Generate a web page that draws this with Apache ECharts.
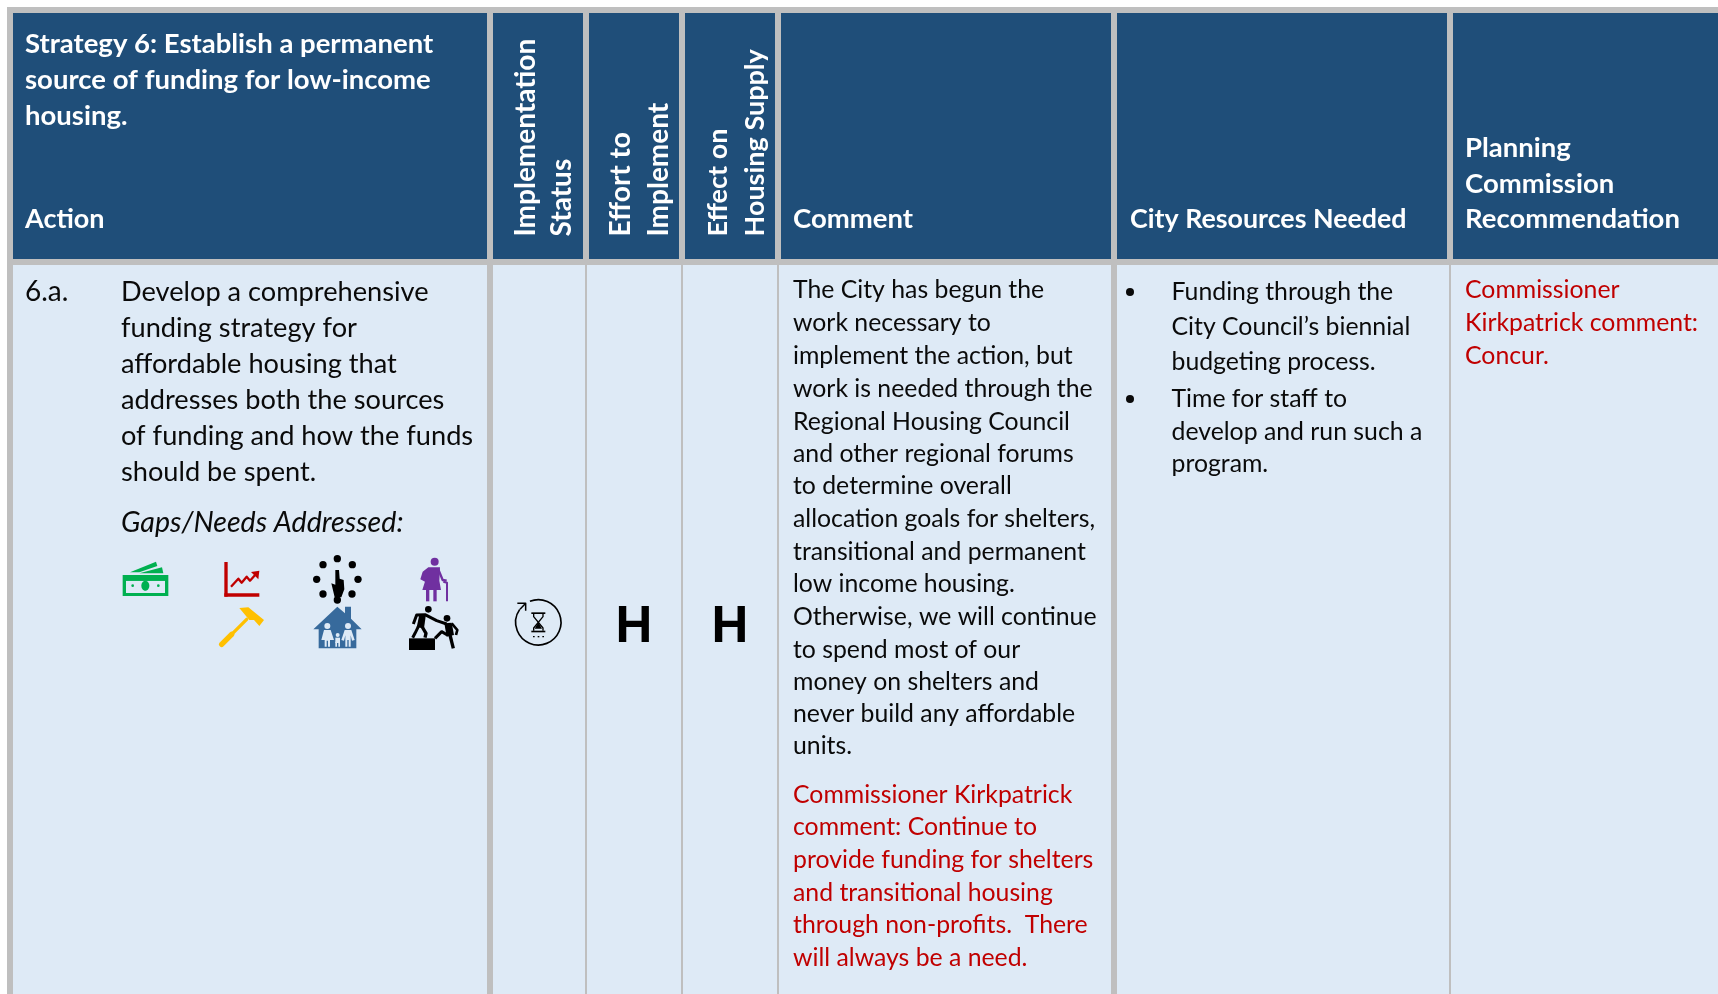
<!DOCTYPE html>
<html><head><meta charset="utf-8">
<style>html,body{margin:0;padding:0;background:#fff}#c{width:1718px;height:994px}</style>
<script src="https://cdn.jsdelivr.net/npm/echarts@6/dist/echarts.min.js"></script>
</head><body><div id="c"></div>
<script>
// ---- table content ----
const strategyTitle = ['Strategy 6: Establish a permanent','source of funding for low-income','housing.'];
const actionHeader = ['Action'];
const statusHeader = ['Implementation','Status'];
const effortHeader = ['Effort to','Implement'];
const effectHeader = ['Effect on','Housing Supply'];
const commentHeader = ['Comment'];
const resourcesHeader = ['City Resources Needed'];
const planningHeader = ['Planning','Commission','Recommendation'];
const actionId = ['6.a.'];
const actionText = ['Develop a comprehensive','funding strategy for','affordable housing that','addresses both the sources','of funding and how the funds','should be spent.'];
const gapsLabel = ['Gaps/Needs Addressed:'];
const effortValue = ['H'];
const effectValue = ['H'];
const commentText = ['The City has begun the','work necessary to','implement the action, but','work is needed through the','Regional Housing Council','and other regional forums','to determine overall','allocation goals for shelters,','transitional and permanent','low income housing.','Otherwise, we will continue','to spend most of our','money on shelters and','never build any affordable','units.'];
const commentRed = ['Commissioner Kirkpatrick','comment: Continue to','provide funding for shelters','and transitional housing','through non-profits.  There','will always be a need.'];
const resourcesText = ['Funding through the','City Council\u2019s biennial','budgeting process.','Time for staff to','develop and run such a','program.'];
const planningRed = ['Commissioner','Kirkpatrick comment:','Concur.'];

// ---- layout and style ----
const GRAY='#BFBFBF', NAVY='#1F4E79', PALE='#DEEAF6', RED='#C00000', INK='#0A0A0A';
const FONT='Lato, Carlito, sans-serif';
const HEAD=27.5, VHEAD=28, VHEAD2=27, BODY=27.2, GAPS=28.6, BODY2=24.8;
const els=[];
const rect=(x,y,w,h,fill)=>els.push({type:'rect',shape:{x,y,width:w,height:h},style:{fill},silent:true});
function txt(s,x,y,size,fill,o={}){
  els.push({type:'text',x,y,rotation:o.rot||0,silent:true,style:{text:s,x:0,y:0,fill,
    font:`${o.italic?'italic ':''}${o.bold?'bold ':''}${size}px ${o.family||FONT}`,
    textAlign:o.align||'left',textVerticalAlign:'middle'}});
}
const lines=(arr,x,ys,size,fill,o)=>arr.forEach((s,i)=>txt(s,x,ys[i],size,fill,o));

// table frame
rect(7,7,1711,987,GRAY);
[[13,474],[493,90],[589,90],[685,90],[781,330],[1117,330],[1453,265]].forEach(c=>rect(c[0],13,c[1],246,NAVY));
[[13,474],[493,92],[587,94],[683,94],[779,332],[1117,332],[1451,267]].forEach(c=>rect(c[0],265,c[1],729,PALE));

// header text
const hb={bold:true};
lines(strategyTitle,25,[44,80,116],HEAD,'#fff',hb);
lines(actionHeader,25,[219],HEAD-0.5,'#fff',hb);
lines(commentHeader,793,[219],HEAD,'#fff',hb);
lines(resourcesHeader,1130,[219],26.8,'#fff',hb);
lines(planningHeader,1465,[148,184,219],HEAD,'#fff',hb);
const rot={bold:true,rot:Math.PI/2};
const vhead=(arr,xs,size)=>arr.forEach((s,i)=>txt(s,xs[i],236.5,size,'#fff',rot));
vhead(statusHeader,[526,562],VHEAD);
vhead(effortHeader,[621,659],VHEAD);
vhead(effectHeader,[718,755],VHEAD2);

// body text
lines(actionId,25,[292],BODY+0.8,INK);
lines(actionText,121,[292.5,328.5,364,400,436,472],BODY,INK);
lines(gapsLabel,121,[522.5],GAPS,INK,{italic:true});
lines(commentText,793,[290,323,356,389,422,454,486,519,552,584,617,650,682,714,746],BODY2,INK);
lines(commentRed,793,[795.5,827.5,860.5,893.5,925.5,958],BODY2,RED);
lines(resourcesText,1171.5,[292.5,327.5,362.5,399.5,432,464.5],BODY2,INK);
[292,399].forEach(y=>els.push({type:'circle',shape:{cx:1130,cy:y,r:4},style:{fill:INK},silent:true}));
lines(planningRed,1465,[290,323,356],BODY2,RED);
lines(effortValue,634,[628],51,'#000',{bold:true,align:'center',family:'Liberation Sans, sans-serif'});
lines(effectValue,730,[628],51,'#000',{bold:true,align:'center',family:'Liberation Sans, sans-serif'});

// icons, drawn in a 3x local space
const poly=(p,fill)=>({type:'polygon',shape:{points:p},style:{fill},silent:true});
const pl=(p,stroke,w,cap)=>({type:'polyline',shape:{points:p},style:{stroke,lineWidth:w,fill:null,lineCap:cap||'butt',lineJoin:'round'},silent:true});
const ci=(x,y,r,fill)=>({type:'circle',shape:{cx:x,cy:y,r},style:{fill},silent:true});
const re=(x,y,w,h,fill)=>({type:'rect',shape:{x,y,width:w,height:h},style:{fill},silent:true});
const G='#00B050',P='#7030A0',Y='#FFC000',B='#376A9C',K='#000';
const icons=[
 // money
 poly([[90,97],[168,65],[172,78],[118,97]],G),
 poly([[118,100],[186,82],[190,100]],G),
 re(68,105,137,63,G), re(78,122,117,37,PALE), re(78,116,117,6,G),
 {type:'ellipse',shape:{cx:136,cy:137,rx:12,ry:15},style:{fill:G},silent:true},
 ci(98,137,4,G),ci(175,137,4,G),
 // chart
 re(373,66,10,104,RED), re(373,160,105,10,RED),
 pl([[393,140],[415,116],[425,128],[440,110],[450,122],[470,100]],RED,7),
 poly([[453,96],[478,92],[475,118]],RED),
 // dial
 ...[[712,56],[757,74],[774,118],[756,162],[712,180],[669,162],[650,118],[669,74]].map(d=>ci(d[0],d[1],11,K)),
 poly([[706,90],[717,90],[719,116],[731,120],[733,148],[724,172],[704,172],[694,130],[706,134]],K),
 // woman
 ci(1004,65,12,P),
 poly([[985,82],[1020,82],[1018,122],[1023,150],[967,150],[978,115],[975,125],[961,118],[968,95]],P),
 pl([[1015,88],[1028,120],[1040,122]],P,7),
 re(978,150,10,34,P), re(1000,150,10,34,P),
 pl([[1041,184],[1041,128],[1030,125]],P,6),
 // hammer
 poly([[418,204],[445,202],[492,240],[478,258],[462,240],[448,240]],Y),
 pl([[365,313],[440,238]],Y,10,'round'),
 pl([[365,313],[395,283]],Y,16,'round'),
 // house
 poly([[712,200],[735,220],[735,200],[753,200],[753,236],[785,268],[769,268],[769,325],[656,325],[656,268],[640,268]],B),
 ci(682,258,9,PALE),ci(744,258,9,PALE),ci(713,285,6,PALE),
 poly([[672,270],[692,270],[702,300],[690,300],[690,320],[684,320],[684,302],[680,302],[680,320],[674,320],[674,300],[664,300]],PALE),
 poly([[734,270],[754,270],[764,300],[756,302],[752,286],[752,320],[746,320],[746,300],[742,300],[742,320],[736,320],[736,286],[732,302],[724,300]],PALE),
 re(706,293,14,16,PALE), re(706,305,5,15,PALE), re(715,305,5,15,PALE),
 // helper
 re(927,295,78,35,K),
 ci(985,208,10,K),ci(1041,235,10,K),
 pl([[940,252],[950,225],[975,224],[1010,242],[1040,252]],K,9),
 poly([[958,224],[978,222],[972,265],[950,262]],K),
 pl([[965,258],[978,280],[975,293]],K,10),
 pl([[955,260],[945,280],[938,293]],K,9),
 poly([[1033,250],[1055,248],[1062,285],[1040,290]],K),
 pl([[1055,250],[1072,270],[1068,285]],K,8),
 pl([[1050,285],[1060,325]],K,10),
 pl([[1042,285],[1025,275],[1005,295]],K,9),
];
els.push({type:'group',x:100,y:540,scaleX:1/3,scaleY:1/3,silent:true,children:icons});

const statusIcon=[
 {type:'arc',shape:{cx:145,cy:157,r:68,startAngle:-1.95,endAngle:3.75,clockwise:true},style:{stroke:K,lineWidth:5,fill:null},silent:true},
 pl([[82,100],[107,100],[107,122]],K,4.5),
 pl([[105,102],[90,118]],K,4.5),
 re(124,127,42,5,K), re(124,182,42,5,K),
 pl([[131,132],[131,140],[159,174],[159,182]],K,4),
 pl([[159,132],[159,140],[131,174],[131,182]],K,4),
 poly([[145,157],[134,176],[156,176]],K),
 re(129,198,5,4,K), re(143,198,5,4,K), re(157,198,5,4,K),
];
els.push({type:'group',x:490,y:570,scaleX:1/3,scaleY:1/3,silent:true,children:statusIcon});

const chart=echarts.init(document.getElementById('c'),null,{renderer:'canvas',width:1718,height:994});
chart.setOption({animation:false,backgroundColor:'#ffffff',graphic:{elements:els}});
</script></body></html>
